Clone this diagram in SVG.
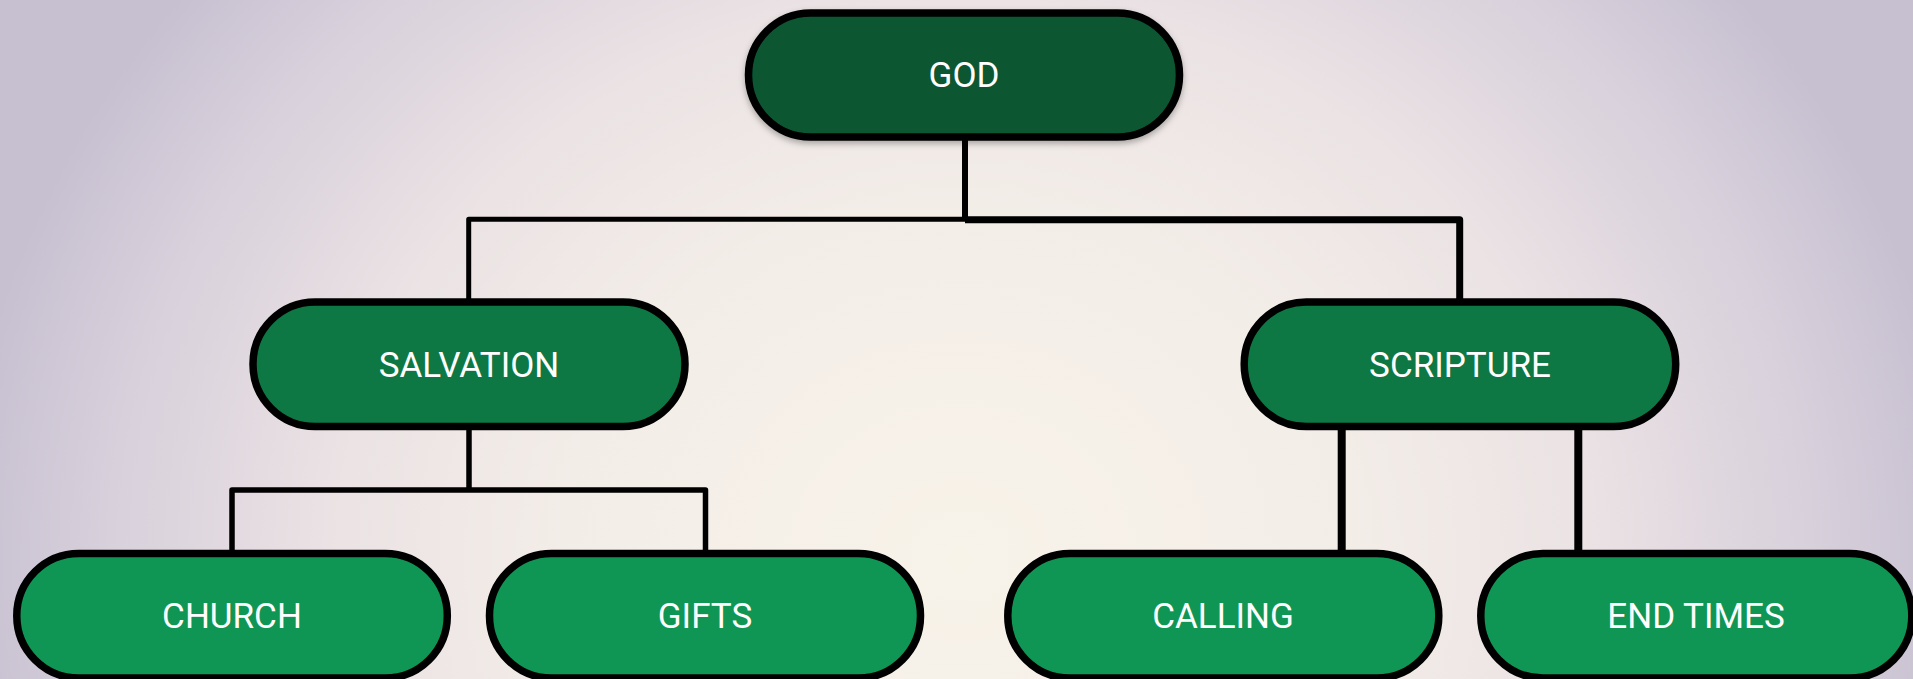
<svg xmlns="http://www.w3.org/2000/svg" width="1913" height="679" viewBox="0 0 1913 679">
  <defs>
    <radialGradient id="bg" gradientUnits="userSpaceOnUse" cx="960" cy="560" r="1000" gradientTransform="translate(0 560) scale(1 0.9) translate(0 -560)">
      <stop offset="0" stop-color="#f8f3e9"/>
      <stop offset="0.4" stop-color="#f3ede8"/>
      <stop offset="0.62" stop-color="#ebe3e4"/>
      <stop offset="0.85" stop-color="#d8d0db"/>
      <stop offset="1" stop-color="#c7c0d1"/>
    </radialGradient>
    <filter id="shadow" x="-10%" y="-20%" width="120%" height="150%">
      <feDropShadow dx="0" dy="3" stdDeviation="3" flood-color="#000" flood-opacity="0.3"/>
    </filter>
    <style>
      .node rect { stroke: #000; stroke-width: 7.5; }
      .l0 rect { fill: #095732; filter: url(#shadow); }
      .l1 rect { fill: #0d7844; }
      .l2 rect { fill: #109654; }
      .node text { font-family: Roboto, "Liberation Sans", sans-serif; font-size: 35px; fill: #ffffff; text-anchor: middle; }
      .conn path { fill: none; stroke: #000; stroke-linejoin: round; }
    </style>
  </defs>
  <rect width="1913" height="679" fill="url(#bg)"/>

  <g id="connectors" class="conn">
    <path d="M965 138 V220" stroke-width="6"/>
    <path d="M965 219.2 H468.7 V304" stroke-width="5"/>
    <path d="M965 219.7 H1459.7 V304" stroke-width="7"/>
    <path d="M469 428 V490 M232 555 V490 H705.5 V555" stroke-width="5.5"/>
    <path d="M1341.7 428 V555 M1578.3 428 V555" stroke-width="8"/>
  </g>

  <g id="node-god" class="node l0">
    <rect x="748.5" y="13" width="431" height="124" rx="62"/>
    <text x="964" y="87">GOD</text>
  </g>
  <g id="node-salvation" class="node l1">
    <rect x="253" y="302" width="432" height="124.5" rx="62"/>
    <text x="469" y="377">SALVATION</text>
  </g>
  <g id="node-scripture" class="node l1">
    <rect x="1244.2" y="302" width="431.5" height="124.5" rx="62"/>
    <text x="1460" y="377">SCRIPTURE</text>
  </g>
  <g id="node-church" class="node l2">
    <rect x="16.8" y="553.5" width="430.5" height="124.5" rx="62"/>
    <text x="232" y="628">CHURCH</text>
  </g>
  <g id="node-gifts" class="node l2">
    <rect x="489.5" y="553.5" width="431" height="124.5" rx="62"/>
    <text x="705" y="628">GIFTS</text>
  </g>
  <g id="node-calling" class="node l2">
    <rect x="1007.8" y="553.5" width="431" height="124.5" rx="62"/>
    <text x="1223" y="628">CALLING</text>
  </g>
  <g id="node-endtimes" class="node l2">
    <rect x="1480.8" y="553.5" width="431" height="124.5" rx="62"/>
    <text x="1696" y="628">END TIMES</text>
  </g>
</svg>
